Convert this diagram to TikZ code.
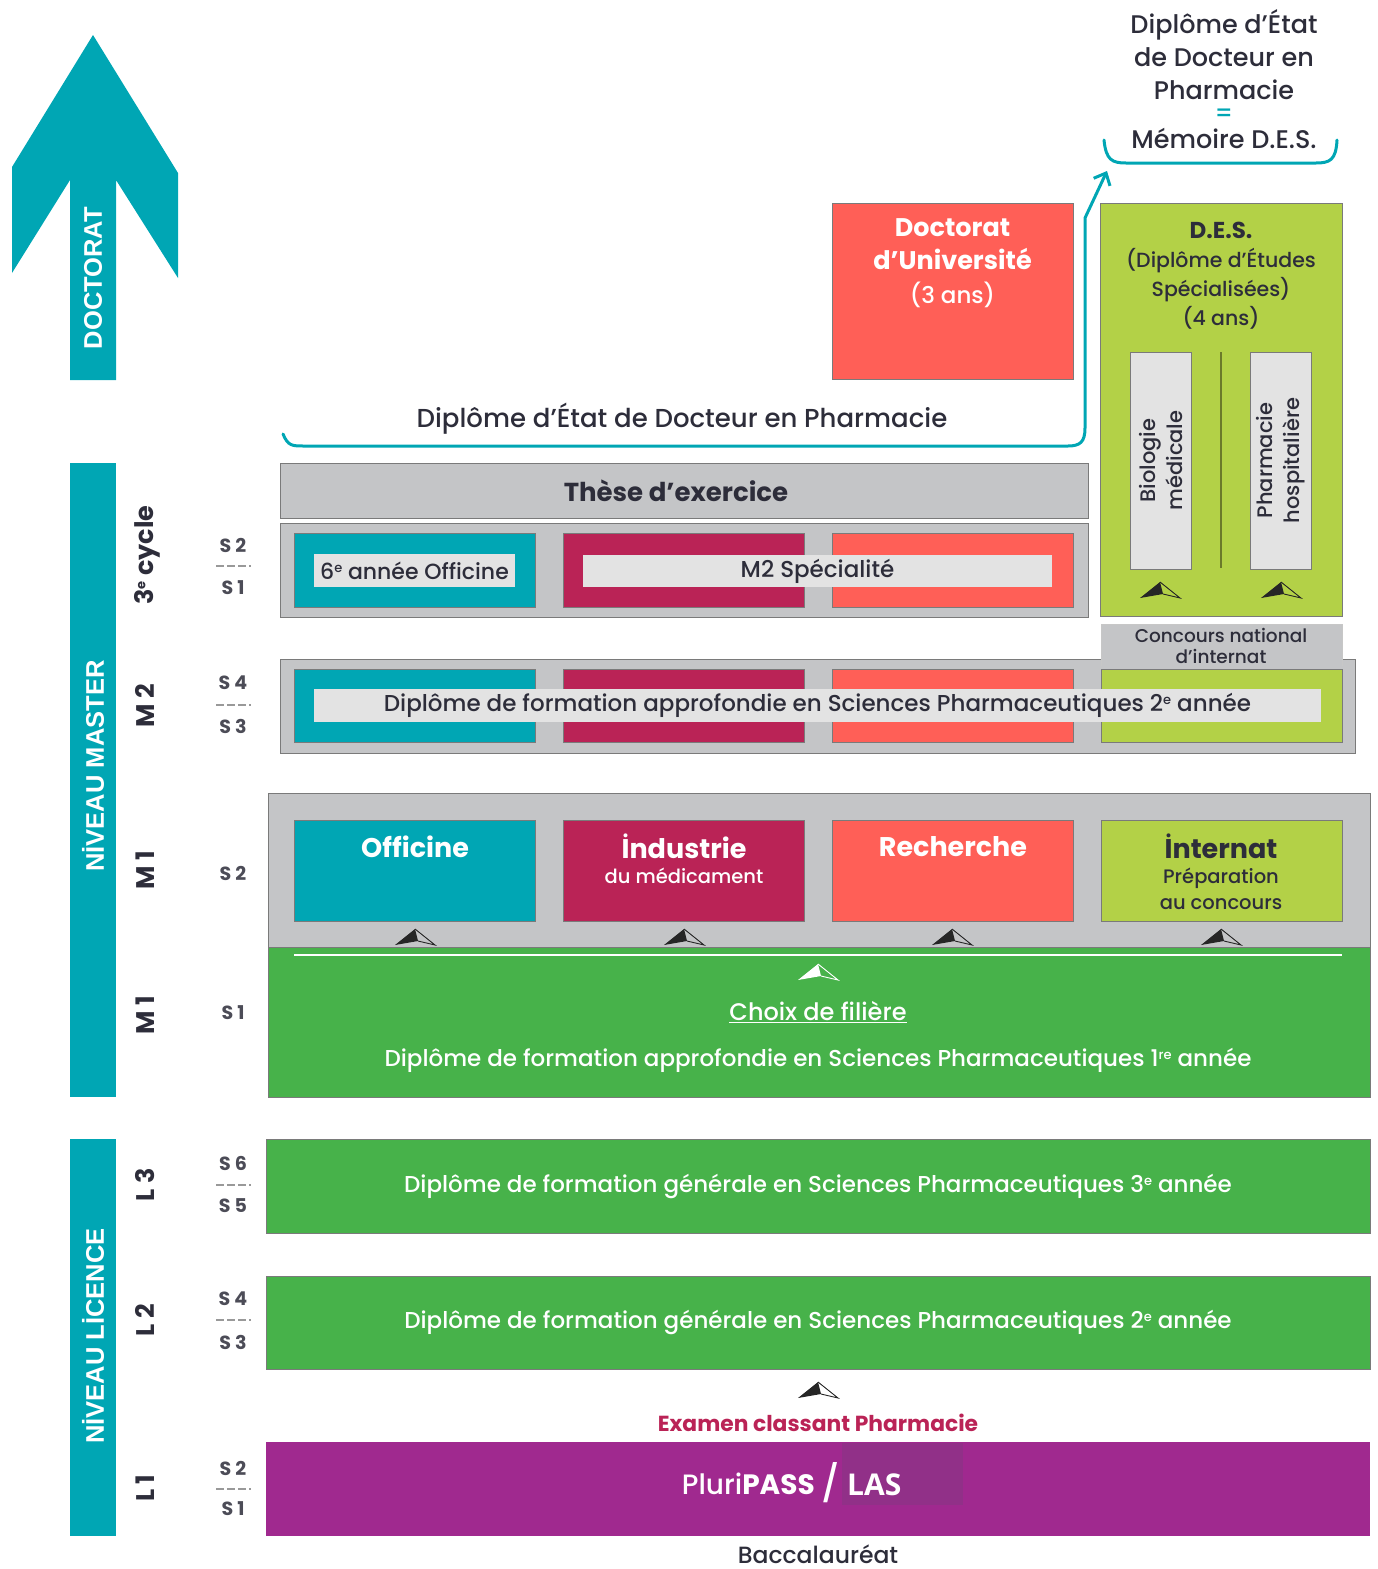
\documentclass[tikz,border=0pt]{standalone}
\usepackage{fontspec}
\setmainfont{Poppins}[UprightFont={* Medium}, BoldFont={* Bold}]
\newfontfamily\arialf{Liberation Sans}
\newfontfamily\osf{Open Sans}
\usetikzlibrary{arrows.meta}
\definecolor{cTeal}{HTML}{00A6B4}
\definecolor{cCrim}{HTML}{BA2356}
\definecolor{cCoral}{HTML}{FF5F57}
\definecolor{cLime}{HTML}{B3D147}
\definecolor{cGrey}{HTML}{C4C5C7}
\definecolor{cLight}{HTML}{E3E3E3}
\definecolor{cGreen}{HTML}{47B24A}
\definecolor{cPurple}{HTML}{A0298F}
\definecolor{cPurpleD}{HTML}{913088}
\definecolor{cDark}{HTML}{2D2D3A}
\definecolor{cEdge}{HTML}{7A7A7A}
\definecolor{cOlive}{HTML}{6B7A2A}
\newcommand\fsz[2]{\fontsize{#1}{#2}\selectfont}
\newcommand\supx[1]{\raisebox{0.55ex}{\fontsize{13}{14}\selectfont #1}}
\newcommand\BX[7]{\node[inner sep=0pt, outer sep=0pt, minimum width={(#4)-(#2)}, minimum height={(#5)-(#3)}, #6] (#1) at ({((#2)+(#4))/2},{((#3)+(#5))/2}) {#7};}
\tikzset{
  bxedge/.style={draw=cEdge, line width=1pt},
  lvl/.style={rotate=90, font=\bfseries\fsz{25.5}{28}, text=cDark},
  sem/.style={font=\bfseries\fsz{19}{23}, text=cDark!85},
  dashsty/.style={draw=black!40, line width=1.2pt, dash pattern=on 8pt off 3pt},
  vbar/.style={rotate=90, text=white, font=\arialf\bfseries\fsz{25.5}{30}},
  wbold/.style={text=white, font=\bfseries\fsz{27}{30}},
  uph/.pic={
    \fill[#1] (-20,8) -- (0,-8) -- (3,4) -- cycle;
    \draw[#1, line width=0.9pt, line join=miter] (0,-8) -- (20,8) -- (3,4);
  }
}
\begin{document}
\begin{tikzpicture}[x=1pt,y=-1pt, font=\fsz{23}{27}, text=cDark]
\useasboundingbox (0,0) rectangle (1378,1569);

% DOCTORAT arrow
\fill[cTeal] (93,35) -- (178,173) -- (178,278) -- (116,180) -- (116,380) -- (70,380) -- (70,180) -- (12,273) -- (12,167) -- cycle;
\node[vbar] (doct) at (93,278) {DOCTORAT};

% level bars
\BX{master}{70}{463}{116}{1097}{fill=cTeal}{}
\node[vbar] (mastert) at (93,766) {NİVEAU MASTER};
\BX{licence}{70}{1139}{116}{1536}{fill=cTeal}{}
\node[vbar] (licet) at (93,1336) {NİVEAU LİCENCE};

% level labels
\node[lvl] (c3) at (147,555) {3\supx{e} cycle};
\node[lvl] (m2) at (145,706) {M 2};
\node[lvl] (m1a) at (145,870) {M 1};
\node[lvl] (m1b) at (145,1015) {M 1};
\node[lvl] (l3) at (145,1185) {L 3};
\node[lvl] (l2) at (145,1320) {L 2};
\node[lvl] (l1) at (145,1488) {L 1};

% semesters
\node[sem] (s2a) at (233,545) {S 2}; \draw[dashsty] (216,566) -- (251,566); \node[sem] (s1a) at (233,588) {S 1};
\node[sem] (s4a) at (233,683) {S 4}; \draw[dashsty] (216,705) -- (251,705); \node[sem] (s3a) at (233,726) {S 3};
\node[sem] (s2b) at (233,873) {S 2};
\node[sem] (s1b) at (233,1013) {S 1};
\node[sem] (s6) at (233,1163) {S 6}; \draw[dashsty] (216,1185) -- (251,1185); \node[sem] (s5) at (233,1206) {S 5};
\node[sem] (s4b) at (233,1299) {S 4}; \draw[dashsty] (216,1320) -- (251,1320); \node[sem] (s3b) at (233,1342) {S 3};
\node[sem] (s2c) at (233,1468) {S 2}; \draw[dashsty] (216,1489) -- (251,1489); \node[sem] (s1c) at (233,1509) {S 1};

% top right text and brace
\node[align=center, inner sep=0pt, font=\fsz{25.5}{33}] (dde) at (1224,55) {Diplôme d’État\\de Docteur en\\Pharmacie};
\node[text=cTeal, inner sep=0pt, font=\fsz{24}{28}] (eq) at (1224,115) {=};
\node[font=\fsz{25.5}{28}, inner sep=1pt] (mem) at (1224,138) {Mémoire D.E.S.};
\coordinate (ubl) at (1104,140);
\coordinate (ubr) at (1337,140);
\draw[cTeal, line width=3pt, line cap=round] (ubl) .. controls (1106,160) and (1112,163) .. (1126,163) -- (1316,163) .. controls (1330,163) and (1336,160) .. (ubr);

% Doctorat d'Universite
\BX{docu}{832}{203}{1073}{379}{fill=cCoral, bxedge}{}
\node[text=white, font=\bfseries\fsz{25.5}{33}, align=center] (docut) at (952.5,244) {Doctorat\\d’Université};
\node[text=white, font=\fsz{23}{26}] (docua) at (952.5,295) {(3 ans)};

% DES
\BX{des}{1100}{203}{1342}{616}{fill=cLime, bxedge}{}
\node[font=\bfseries\fsz{23}{26}] (dest) at (1221,230) {D.E.S.};
\node[align=center, font=\fsz{20.5}{29}] (desd) at (1221,289) {(Diplôme d’Études\\Spécialisées)\\(4 ans)};
\BX{bio}{1130}{352}{1191}{569}{fill=cLight, bxedge}{}
\node[rotate=90, align=center, font=\fsz{21}{27}] (biot) at (bio) {Biologie\\médicale};
\BX{phh}{1250}{352}{1311}{569}{fill=cLight, bxedge}{}
\node[rotate=90, align=center, font=\fsz{21}{27}] (phht) at (phh) {Pharmacie\\hospitalière};
\draw[cOlive, line width=1.5pt] (1221,352) -- (1221,568);
\pic at (1160,590) {uph={black!85}};
\pic at (1281,590) {uph={black!85}};

% Diplome d'Etat brace + arrow
\node[font=\fsz{26}{28}] (ddp) at (682,419) {Diplôme d’État de Docteur en Pharmacie};
\coordinate (bstart) at (283,434);
\coordinate (atip) at (1107,171);
\draw[cTeal, line width=3pt, line cap=round, -{Straight Barb[length=10pt, width=18pt, line width=3pt]}] (bstart) .. controls (288,446) and (292,446) .. (304,446) -- (1068,446) .. controls (1080,446) and (1085,442) .. (1085,428) -- (1085,218) -- (atip);

% These + 3e cycle
\BX{these}{280}{463}{1088}{518}{fill=cGrey, bxedge}{}
\node[font=\bfseries\fsz{26}{30}] (theset) at (676,491) {Thèse d’exercice};
\BX{row3}{280}{523}{1088}{617}{fill=cGrey, bxedge}{}
\BX{off3}{294}{533}{535}{607}{fill=cTeal, bxedge}{}
\BX{ind3}{563}{533}{804}{607}{fill=cCrim, bxedge}{}
\BX{rec3}{832}{533}{1073}{607}{fill=cCoral, bxedge}{}
\BX{off3l}{314}{554}{515}{587}{fill=cLight, font=\fsz{22}{26}}{6\supx{e} année Officine}
\BX{m2s}{583}{555}{1052}{587}{fill=cLight}{M2 Spécialité}

% M2 row
\BX{row2}{280}{659}{1355}{753}{fill=cGrey, bxedge}{}
\BX{conc}{1101}{624}{1342}{666}{fill=cGrey}{}
\draw[black!22, line width=1pt] (conc.south west) |- (conc.north east) -- (conc.south east);
\node[align=center, font=\fsz{18.5}{21}] (conct) at (1221,646) {Concours national\\d’internat};
\BX{off2}{294}{669}{535}{742}{fill=cTeal, bxedge}{}
\BX{ind2}{563}{669}{804}{742}{fill=cCrim, bxedge}{}
\BX{rec2}{832}{669}{1073}{742}{fill=cCoral, bxedge}{}
\BX{int2}{1101}{669}{1342}{742}{fill=cLime, bxedge}{}
\BX{dfa2}{314}{689}{1321}{722}{fill=cLight}{Diplôme de formation approfondie en Sciences Pharmaceutiques 2\supx{e} année}

% M1 row
\BX{row1}{268}{793}{1370}{1097}{fill=cGrey, bxedge}{}
\BX{grn1}{268}{947}{1370}{1097}{fill=cGreen, bxedge}{}
\BX{off1}{294}{820}{535}{921}{fill=cTeal, bxedge}{}
\node[wbold] (off1t) at (415,847) {Officine};
\BX{ind1}{563}{820}{804}{921}{fill=cCrim, bxedge}{}
\node[wbold] (ind1t) at (684,846) {İndustrie};
\node[text=white, font=\fsz{19.5}{23}] (ind1s) at (684,876) {du médicament};
\BX{rec1}{832}{820}{1073}{921}{fill=cCoral, bxedge}{}
\node[wbold] (rec1t) at (953,847) {Recherche};
\BX{int1}{1101}{820}{1342}{921}{fill=cLime, bxedge}{}
\node[font=\bfseries\fsz{27}{30}] (int1t) at (1221,846) {İnternat};
\node[align=center, font=\fsz{19.5}{26}] (int1s) at (1221,889) {Préparation\\au concours};
\draw[white, line width=2pt] (294,955) -- (1342,955);
\pic at (415,937) {uph={black!85}};
\pic at (684,937) {uph={black!85}};
\pic at (952,937) {uph={black!85}};
\pic at (1221,937) {uph={black!85}};
\pic at (818,972) {uph=white};
\node[text=white, font=\fsz{24}{28}] (choix) at (818,1012) {\underline{Choix de filière}};
\node[text=white] (dfa1) at (818,1060) {Diplôme de formation approfondie en Sciences Pharmaceutiques 1\supx{re} année};

% Licence
\BX{l3b}{266}{1139}{1370}{1233}{fill=cGreen, bxedge, text=white}{Diplôme de formation générale en Sciences Pharmaceutiques 3\supx{e} année}
\BX{l2b}{266}{1276}{1370}{1369}{fill=cGreen, bxedge, text=white}{Diplôme de formation générale en Sciences Pharmaceutiques 2\supx{e} année}
\pic at (818,1390) {uph={black!85}};
\node[text=cCrim, font=\bfseries\fsz{21.8}{24}] (exam) at (818,1423) {Examen classant Pharmacie};
\BX{pass}{266}{1442}{1370}{1536}{fill=cPurple}{}
\BX{lasbg}{842}{1443}{963}{1505}{fill=cPurpleD}{}
\node[text=white, font=\fsz{28}{32}, anchor=base east, inner sep=0pt] (pluri) at (815,1494) {Pluri\textbf{PASS}};
\node[text=white, font=\fsz{36}{40}, anchor=base, inner sep=0pt] (slash) at (831,1496) {/};
\node[text=white, font=\osf\bfseries\fsz{30}{34}, anchor=base west, inner sep=0pt] (las) at (847,1495) {LAS};
\node[font=\fsz{23.5}{26}] (bac) at (818,1554) {Baccalauréat};
\end{tikzpicture}
\end{document}
